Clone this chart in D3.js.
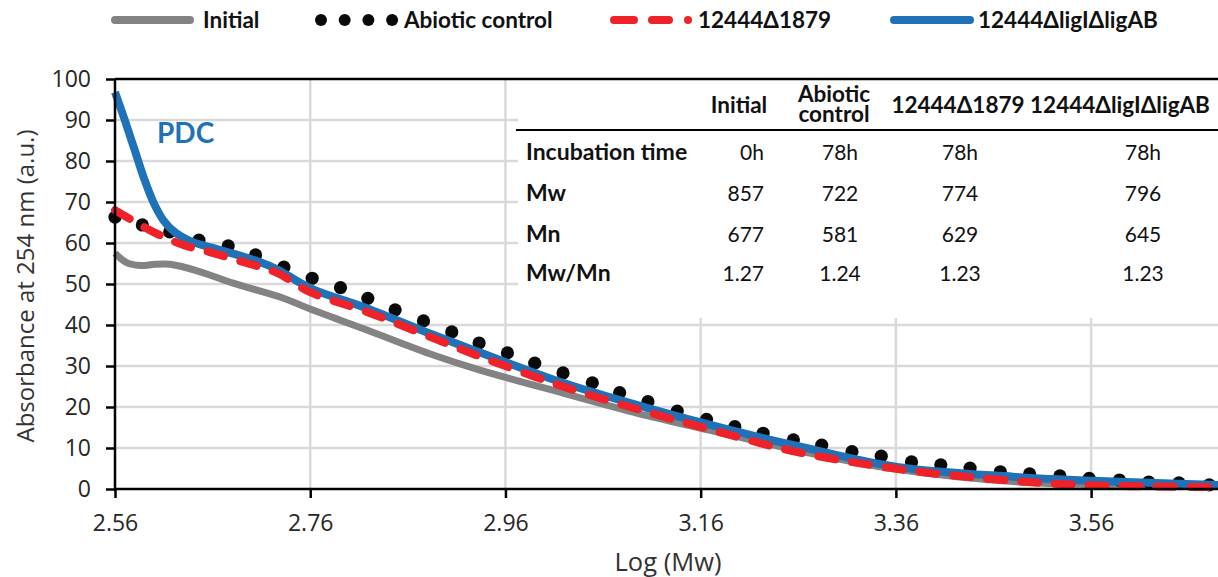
<!DOCTYPE html>
<html><head><meta charset="utf-8">
<script src="https://cdn.jsdelivr.net/npm/d3@7"></script>
<style>
html,body{margin:0;padding:0;background:#fff;}
svg{display:block;}
</style></head>
<body>
<svg id="chart" width="1218" height="577"></svg>
<script>
// ---- data ----
const xTicks = [2.56, 2.76, 2.96, 3.16, 3.36, 3.56];
const yTicks = [0, 10, 20, 30, 40, 50, 60, 70, 80, 90, 100];

const initialX = [2.560, 2.572, 2.586, 2.601, 2.616, 2.634, 2.657, 2.681, 2.732, 2.760, 2.818, 2.886, 2.934, 3.019, 3.105, 3.190, 3.259, 3.361, 3.480, 3.569, 3.690];
const initialY = [57.5, 55.2, 54.5, 54.8, 54.8, 53.9, 52.2, 50.2, 46.6, 43.9, 38.8, 32.7, 29.0, 23.4, 17.9, 13.2, 9.4, 4.8, 1.8, 1.0, 0.8];

const abioticX = [2.560, 2.588, 2.616, 2.646, 2.676, 2.704, 2.733, 2.762, 2.791, 2.819, 2.847, 2.876, 2.905, 2.933, 2.962, 2.990, 3.019, 3.049, 3.077, 3.106, 3.136, 3.166, 3.195, 3.224, 3.255, 3.284, 3.315, 3.345, 3.376, 3.406, 3.436, 3.467, 3.497, 3.528, 3.558, 3.589, 3.619, 3.650, 3.681];
const abioticY = [66.3, 64.4, 62.7, 60.7, 59.3, 57.1, 54.1, 51.4, 49.1, 46.5, 43.7, 41.0, 38.3, 35.6, 33.2, 30.7, 28.3, 25.9, 23.5, 21.3, 19.0, 17.0, 15.2, 13.6, 12.0, 10.7, 9.1, 8.0, 6.6, 5.9, 5.1, 4.2, 3.7, 3.2, 2.6, 2.2, 1.7, 1.5, 1.0];

const d1879X = [2.560, 2.599, 2.613, 2.630, 2.657, 2.691, 2.726, 2.760, 2.818, 2.886, 2.934, 3.019, 3.105, 3.190, 3.259, 3.371, 3.480, 3.549, 3.669, 3.690];
const d1879Y = [68.0, 62.7, 61.2, 59.5, 57.8, 55.4, 52.7, 48.0, 43.2, 36.8, 32.3, 25.0, 18.8, 13.2, 9.0, 4.6, 2.0, 1.0, 0.5, 0.5];

const ligX = [2.560, 2.570, 2.580, 2.590, 2.600, 2.610, 2.622, 2.636, 2.657, 2.681, 2.709, 2.726, 2.760, 2.818, 2.886, 2.934, 3.019, 3.105, 3.190, 3.259, 3.361, 3.480, 3.562, 3.690];
const ligY = [96.8, 90.0, 82.8, 75.6, 69.6, 65.4, 62.5, 60.6, 59.0, 57.4, 55.3, 53.6, 49.0, 44.1, 37.6, 33.3, 25.9, 19.8, 14.4, 10.5, 5.4, 3.0, 2.0, 1.0];

const legendNames = ["Initial", "Abiotic control", "12444Δ1879", "12444ΔligIΔligAB"];

const tableHeaders = [["Initial"], ["Abiotic", "control"], ["12444Δ1879"], ["12444ΔligIΔligAB"]];
const rowLabels = ["Incubation time", "Mw", "Mn", "Mw/Mn"];
const incubation = ["0h", "78h", "78h", "78h"];
const mwValues = ["857", "722", "774", "796"];
const mnValues = ["677", "581", "629", "645"];
const pdiValues = ["1.27", "1.24", "1.23", "1.23"];

// ---- layout ----
const svg = d3.select("#chart");
const L = 115, R = 1218, T = 79, B = 489;
const x = d3.scaleLinear().domain([2.56, 3.69]).range([L, R]);
const y = d3.scaleLinear().domain([0, 100]).range([B, T]);

const GRID = "#d9d9d9";
const GRAY = "#838383", BLUE = "#1f71b8", RED = "#ee2228", BLACK = "#0a0a0a";
const axisFont = "'Open Sans', sans-serif";
const boldFont = "Lato, 'Open Sans', sans-serif";

// gridlines
svg.append("g").selectAll("line").data(yTicks.filter(v => v > 0 && v < 100)).join("line")
  .attr("x1", L).attr("x2", R).attr("y1", d => y(d)).attr("y2", d => y(d))
  .attr("stroke", GRID).attr("stroke-width", 2.5);
svg.append("g").selectAll("line").data(xTicks.slice(1)).join("line")
  .attr("x1", d => x(d)).attr("x2", d => x(d)).attr("y1", T).attr("y2", B)
  .attr("stroke", GRID).attr("stroke-width", 2.5);

// table background
svg.append("rect").attr("x", 518).attr("y", T + 1).attr("width", R - 518).attr("height", 318 - T - 1).attr("fill", "#fff");

// series
const pts = (xs, ys) => xs.map((v, i) => [v, ys[i]]);
const line = d3.line().x(d => x(d[0])).y(d => y(d[1])).curve(d3.curveMonotoneX);
const smooth = d3.line().x(d => x(d[0])).y(d => y(d[1])).curve(d3.curveCatmullRom.alpha(0.5));
const plot = svg.append("g");
plot.append("path").datum(pts(initialX, initialY)).attr("d", smooth)
  .attr("fill", "none").attr("stroke", GRAY).attr("stroke-width", 7).attr("stroke-linejoin", "round");
plot.append("g").selectAll("circle").data(pts(abioticX, abioticY)).join("circle")
  .attr("cx", d => x(d[0])).attr("cy", d => y(d[1])).attr("r", 6.6).attr("fill", BLACK);
plot.append("path").datum(pts(ligX, ligY)).attr("d", smooth)
  .attr("fill", "none").attr("stroke", BLUE).attr("stroke-width", 8).attr("stroke-linejoin", "round");
plot.append("path").datum(pts(d1879X, d1879Y)).attr("d", smooth)
  .attr("fill", "none").attr("stroke", RED).attr("stroke-width", 8)
  .attr("stroke-dasharray", "17 17").attr("stroke-linecap", "round");

// axes
const yAxis = svg.append("g").attr("transform", `translate(${L},0)`)
  .call(d3.axisLeft(y).tickValues(yTicks).tickSize(9).tickPadding(15).tickFormat(d3.format("d")));
const xAxis = svg.append("g").attr("transform", `translate(0,${B})`)
  .call(d3.axisBottom(x).tickValues(xTicks).tickSize(9).tickPadding(17).tickFormat(d3.format(".2f")));
[yAxis, xAxis].forEach(g => {
  g.select(".domain").attr("stroke", "#000").attr("stroke-width", 2.5);
  g.selectAll(".tick line").attr("stroke", "#000").attr("stroke-width", 2.5);
  g.selectAll(".tick text").attr("fill", "#262626").style("font-family", axisFont).style("font-size", "23px");
});
xAxis.select(".domain").attr("d", `M${L},0H${R}`);
yAxis.select(".domain").attr("d", `M0,${B}V${T}`);
// top border
svg.append("line").attr("x1", L).attr("x2", R).attr("y1", T).attr("y2", T).attr("stroke", "#000").attr("stroke-width", 2.5);

// axis titles
svg.append("text").attr("transform", `translate(34,${(T + B) / 2 + 2}) rotate(-90)`)
  .attr("text-anchor", "middle").attr("fill", "#333")
  .style("font-family", axisFont).style("font-size", "24px").text("Absorbance at 254 nm (a.u.)");
svg.append("text").attr("x", 668).attr("y", 571).attr("text-anchor", "middle").attr("fill", "#333")
  .style("font-family", axisFont).style("font-size", "25.5px").text("Log (Mw)");

// PDC label
svg.append("text").attr("x", 157).attr("y", 143).attr("fill", BLUE)
  .style("font-family", boldFont).style("font-weight", "bold").style("font-size", "28px").text("PDC");

// legend
const lg = svg.append("g").style("font-family", boldFont).style("font-weight", "bold").style("font-size", "22.5px").attr("fill", "#111");
const LY = 20;
lg.append("line").attr("x1", 115).attr("x2", 190).attr("y1", LY).attr("y2", LY)
  .attr("stroke", GRAY).attr("stroke-width", 8).attr("stroke-linecap", "round");
lg.append("text").attr("x", 203).attr("y", LY + 8).text(legendNames[0]);
lg.selectAll("circle").data([0, 1, 2, 3]).join("circle")
  .attr("cx", d => 321 + d * 23.7).attr("cy", LY).attr("r", 6).attr("fill", BLACK);
lg.append("text").attr("x", 404).attr("y", LY + 8).text(legendNames[1]);
lg.append("line").attr("x1", 614).attr("x2", 690).attr("y1", LY).attr("y2", LY)
  .attr("stroke", RED).attr("stroke-width", 8).attr("stroke-linecap", "round")
  .attr("stroke-dasharray", "20 18 17 19 0.01 60");
lg.append("text").attr("x", 698).attr("y", LY + 8).text(legendNames[2]);
lg.append("line").attr("x1", 894).attr("x2", 970).attr("y1", LY).attr("y2", LY)
  .attr("stroke", BLUE).attr("stroke-width", 8).attr("stroke-linecap", "round");
lg.append("text").attr("x", 978).attr("y", LY + 8).text(legendNames[3]);

// table
const tb = svg.append("g").style("font-family", boldFont).attr("fill", "#111");
const headX = [739, 834, 958, 1120];
tableHeaders.forEach((h, i) => {
  h.forEach((t, j) => {
    const yy = h.length === 1 ? 113 : 102 + j * 20;
    tb.append("text").attr("x", headX[i]).attr("y", yy).attr("text-anchor", "middle")
      .style("font-weight", "bold").style("font-size", "22.5px").text(t);
  });
});
tb.append("line").attr("x1", 516).attr("x2", R).attr("y1", 130).attr("y2", 130).attr("stroke", "#000").attr("stroke-width", 2);
const rowY = [160, 201, 242, 281];
const rows = [incubation, mwValues, mnValues, pdiValues];
const colX = [764, 840, 960, 1143];
const colAnchor = ["end", "middle", "middle", "middle"];
rowLabels.forEach((lab, r) => {
  tb.append("text").attr("x", 526).attr("y", rowY[r]).style("font-weight", "bold").style("font-size", "23px").text(lab);
  rows[r].forEach((v, c) => {
    tb.append("text").attr("x", colX[c]).attr("y", rowY[r]).attr("text-anchor", colAnchor[c])
      .style("font-size", "21px").text(v);
  });
});
</script>
</body></html>
